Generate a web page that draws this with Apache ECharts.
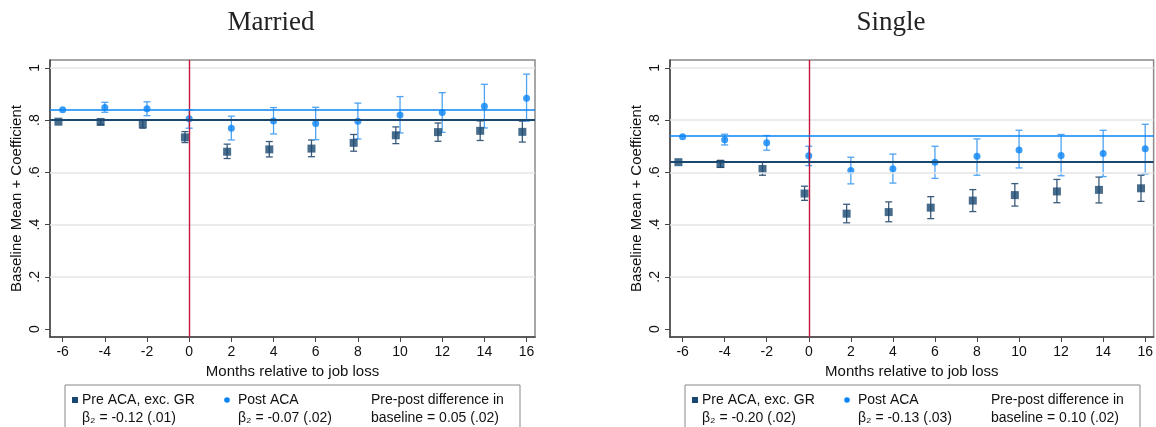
<!DOCTYPE html>
<html><head><meta charset="utf-8">
<script src="https://cdn.jsdelivr.net/npm/echarts@6/dist/echarts.min.js"></script>
<style>html,body{margin:0;padding:0;background:#fff}#c{width:1156px;height:427px}</style>
</head><body><div id="c"></div>
<script>
// ---------- data ----------
const months = [-6, -4, -2, 0, 2, 4, 6, 8, 10, 12, 14, 16];
const xTicks = [-6, -4, -2, 0, 2, 4, 6, 8, 10, 12, 14, 16];
const yTicks = [0, 0.2, 0.4, 0.6, 0.8, 1];
const yGrid = [0.2, 0.4, 0.6, 0.8, 1];

// Married
const marriedPre   = [0.794, 0.793, 0.785, 0.734, 0.679, 0.688, 0.691, 0.713, 0.742, 0.754, 0.759, 0.755];
const marriedPreLo = [null, 0.783, 0.769, 0.714, 0.653, 0.659, 0.660, 0.681, 0.710, 0.719, 0.722, 0.716];
const marriedPreHi = [null, 0.802, 0.802, 0.756, 0.708, 0.718, 0.724, 0.745, 0.774, 0.789, 0.797, 0.796];
const marriedPost   = [0.840, 0.848, 0.843, 0.805, 0.769, 0.797, 0.787, 0.796, 0.820, 0.829, 0.853, 0.884];
const marriedPostLo = [null, 0.830, 0.817, 0.769, 0.724, 0.747, 0.725, 0.728, 0.751, 0.753, 0.770, 0.796];
const marriedPostHi = [null, 0.868, 0.870, 0.839, 0.815, 0.848, 0.849, 0.865, 0.890, 0.905, 0.937, 0.976];
const marriedBasePre = 0.796;
const marriedBasePost = 0.840;

// Single
const singlePre   = [0.639, 0.632, 0.613, 0.519, 0.442, 0.448, 0.465, 0.492, 0.513, 0.527, 0.533, 0.539];
const singlePreLo = [null, 0.619, 0.589, 0.493, 0.407, 0.411, 0.423, 0.450, 0.471, 0.484, 0.483, 0.489];
const singlePreHi = [null, 0.646, 0.639, 0.547, 0.478, 0.487, 0.507, 0.534, 0.557, 0.573, 0.582, 0.589];
const singlePost   = [0.736, 0.725, 0.713, 0.664, 0.607, 0.614, 0.639, 0.662, 0.686, 0.665, 0.672, 0.690];
const singlePostLo = [null, 0.705, 0.685, 0.626, 0.556, 0.559, 0.577, 0.589, 0.617, 0.587, 0.584, 0.594];
const singlePostHi = [null, 0.746, 0.741, 0.700, 0.658, 0.670, 0.700, 0.728, 0.761, 0.745, 0.761, 0.784];
const singleBasePre = 0.639;
const singleBasePost = 0.737;

const panelTitles = ['Married', 'Single'];
const xTitle = 'Months relative to job loss';
const yTitle = 'Baseline Mean + Coefficient';
const legendPre = ['Pre ACA, exc. GR', 'Pre ACA, exc. GR'];
const legendPost = ['Post ACA', 'Post ACA'];
const legendBetaPre = ['β₂ = -0.12 (.01)', 'β₂ = -0.20 (.02)'];
const legendBetaPost = ['β₂ = -0.07 (.02)', 'β₂ = -0.13 (.03)'];
const legendDiff1 = ['Pre-post difference in', 'Pre-post difference in'];
const legendDiff2 = ['baseline = 0.05 (.02)', 'baseline = 0.10 (.02)'];

// ---------- style ----------
const NAVY = '#1a476f';
const NAVY_BAR = '#3b5b7c';
const BLUE = '#0a84f5';
const BLUE_BAR = '#4ea3f2';
const RED = '#c4173f';
const PRE_OFFSET = -0.2;
const SANS = 'Liberation Sans, Arial, sans-serif';

const panels = [
  {left: 50, pre: marriedPre, preLo: marriedPreLo, preHi: marriedPreHi,
   post: marriedPost, postLo: marriedPostLo, postHi: marriedPostHi,
   basePre: marriedBasePre, basePost: marriedBasePost},
  {left: 670, pre: singlePre, preLo: singlePreLo, preHi: singlePreHi,
   post: singlePost, postLo: singlePostLo, postHi: singlePostHi,
   basePre: singleBasePre, basePost: singleBasePost}
];

function errBar(color) {
  return function (params, api) {
    const x = api.value(0), lo = api.value(1), hi = api.value(2);
    const a = api.coord([x, lo]), b = api.coord([x, hi]);
    const w = 3.5;
    const st = {stroke: color, lineWidth: 1.3};
    return {type: 'group', children: [
      {type: 'line', shape: {x1: a[0], y1: a[1], x2: b[0], y2: b[1]}, style: st},
      {type: 'line', shape: {x1: a[0] - w, y1: a[1], x2: a[0] + w, y2: a[1]}, style: st},
      {type: 'line', shape: {x1: b[0] - w, y1: b[1], x2: b[0] + w, y2: b[1]}, style: st}
    ]};
  };
}

const grid = [], xAxis = [], yAxis = [], series = [], graphic = [];
panels.forEach((p, i) => {
  grid.push({left: p.left, top: 60, width: 485, height: 277, show: true,
    borderColor: '#8a8a8a', borderWidth: 1.5, backgroundColor: '#fff'});
  xAxis.push({type: 'value', gridIndex: i, min: -6.6, max: 16.4,
    name: xTitle, nameLocation: 'middle', nameGap: 24,
    nameTextStyle: {fontFamily: SANS, fontSize: 15, color: '#111'},
    axisLine: {show: true, onZero: false, lineStyle: {color: '#444', width: 1.5}},
    axisTick: {show: true, length: 5, customValues: xTicks, lineStyle: {color: '#444'}},
    axisLabel: {customValues: xTicks, fontFamily: SANS, fontSize: 14, color: '#111', margin: 8},
    splitLine: {show: false}});
  yAxis.push({type: 'value', gridIndex: i, min: -0.03, max: 1.03,
    name: yTitle, nameLocation: 'middle', nameGap: 26, nameRotate: 90,
    nameTextStyle: {fontFamily: SANS, fontSize: 15, color: '#111'},
    axisLine: {show: true, onZero: false, lineStyle: {color: '#444', width: 1.5}},
    axisTick: {show: true, length: 5, customValues: yTicks, lineStyle: {color: '#444'}},
    axisLabel: {customValues: yTicks, rotate: 90, fontFamily: SANS, fontSize: 14, color: '#111', margin: 8,
      formatter: v => v === 0 ? '0' : (v === 1 ? '1' : String(+v.toFixed(1)).replace(/^0/, ''))},
    splitLine: {show: false}});

  // gridlines + baselines + event line
  series.push({type: 'line', xAxisIndex: i, yAxisIndex: i, data: [], silent: true, z: 1,
    markLine: {symbol: 'none', silent: true, label: {show: false}, animation: false,
      lineStyle: {color: '#e4e4e4', width: 1.5, type: 'solid'},
      data: yGrid.map(v => ({yAxis: v}))}});
  series.push({type: 'line', xAxisIndex: i, yAxisIndex: i, data: [], silent: true, z: 2,
    markLine: {symbol: 'none', silent: true, label: {show: false}, animation: false,
      data: [
        {xAxis: 0, lineStyle: {color: RED, width: 1.4, type: 'solid'}},
        {yAxis: p.basePre, lineStyle: {color: NAVY, width: 1.8, type: 'solid'}},
        {yAxis: p.basePost, lineStyle: {color: BLUE, width: 1.5, type: 'solid'}}
      ]}});

  const preBars = [], postBars = [], prePts = [], postPts = [];
  months.forEach((m, k) => {
    if (p.preLo[k] != null) preBars.push([m + PRE_OFFSET, p.preLo[k], p.preHi[k]]);
    if (p.postLo[k] != null) postBars.push([m, p.postLo[k], p.postHi[k]]);
    prePts.push([m + PRE_OFFSET, p.pre[k]]);
    postPts.push([m, p.post[k]]);
  });
  series.push({type: 'custom', xAxisIndex: i, yAxisIndex: i, renderItem: errBar(NAVY_BAR),
    data: preBars, encode: {x: 0, y: [1, 2]}, z: 3, animation: false});
  series.push({type: 'custom', xAxisIndex: i, yAxisIndex: i, renderItem: errBar(BLUE_BAR),
    data: postBars, encode: {x: 0, y: [1, 2]}, z: 3, animation: false});
  series.push({type: 'scatter', xAxisIndex: i, yAxisIndex: i, data: prePts, symbol: 'rect',
    symbolSize: 8, itemStyle: {color: NAVY}, z: 4, animation: false});
  series.push({type: 'scatter', xAxisIndex: i, yAxisIndex: i, data: postPts, symbol: 'circle',
    symbolSize: 7, itemStyle: {color: BLUE}, z: 4, animation: false});

  // legend box
  const lx = p.left + 15;
  graphic.push({type: 'rect', shape: {x: lx, y: 385, width: 455, height: 60},
    style: {fill: '#fff', stroke: '#888', lineWidth: 1}, z: 10});
  graphic.push({type: 'rect', shape: {x: lx + 7, y: 397, width: 6, height: 6}, style: {fill: NAVY}, z: 11});
  graphic.push({type: 'circle', shape: {cx: lx + 162, cy: 400, r: 2.8}, style: {fill: BLUE}, z: 11});
  const tx = (x, y, t) => graphic.push({type: 'text', x: x, y: y, z: 11,
    style: {text: t, fontFamily: SANS, fontSize: 14, fill: '#111', verticalAlign: 'middle'}});
  tx(lx + 17, 400, legendPre[i]);
  tx(lx + 17, 418, legendBetaPre[i]);
  tx(lx + 173, 400, legendPost[i]);
  tx(lx + 173, 418, legendBetaPost[i]);
  tx(lx + 306, 400, legendDiff1[i]);
  tx(lx + 306, 418, legendDiff2[i]);
});

graphic.push({type: 'text', x: 271, y: 23, style: {text: panelTitles[0], fontFamily: 'Liberation Serif, serif',
  fontSize: 27, fill: '#222', align: 'center', verticalAlign: 'middle'}});
graphic.push({type: 'text', x: 891, y: 23, style: {text: panelTitles[1], fontFamily: 'Liberation Serif, serif',
  fontSize: 27, fill: '#222', align: 'center', verticalAlign: 'middle'}});

const chart = echarts.init(document.getElementById('c'), null, {renderer: 'canvas'});
chart.setOption({animation: false, backgroundColor: '#fff', grid, xAxis, yAxis, series, graphic});
</script></body></html>
